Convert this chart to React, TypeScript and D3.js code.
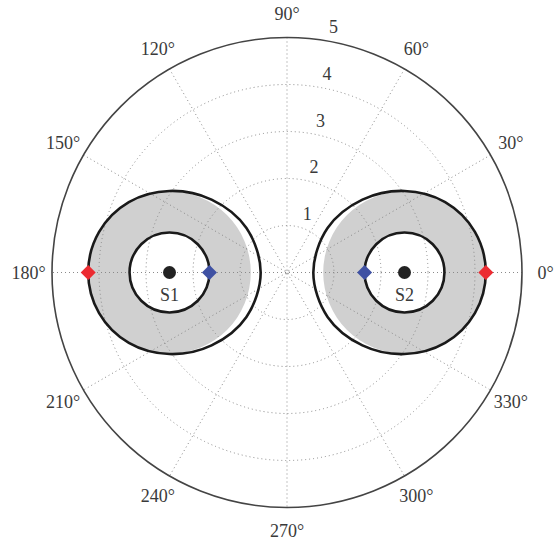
import React from 'react';
import * as d3 from 'd3';

// Polar axis
const rMax = 5;
const radialTicks = [1, 2, 3, 4, 5];
const angleTicks = [0, 30, 60, 90, 120, 150, 180, 210, 240, 270, 300, 330];

// Sources (polar position in the chart's own coordinates)
const sourceNames = ['S1', 'S2'];
const sourceTheta = [180, 0];
const sourceR = [2.5, 2.5];

// Annulus around each source (radii in chart units)
const innerRadius = [0.85, 0.85];
const shadedRadius = [1.73, 1.73];

// Outer boundary around each source: angle measured from the direction
// pointing at the origin, radius from the source centre
const boundaryAngles = [0, 30, 60, 90, 120, 150, 180, 210, 240, 270, 300, 330];
const boundaryRadii = [1.94, 1.89, 1.79, 1.735, 1.73, 1.73, 1.73, 1.73, 1.73, 1.735, 1.79, 1.89];

const W = 558;
const H = 546;
const cx = 287;
const cy = 272.5;
const R = 235;

const FONT = '"Liberation Serif", "Times New Roman", serif';
const TEXT = '#3a3a3a';

export default function App() {
  const r = d3.scaleLinear().domain([0, rMax]).range([0, R]);
  const rad = (deg: number) => (deg * Math.PI) / 180;
  const px = (theta: number, rv: number) => cx + r(rv) * Math.cos(rad(theta));
  const py = (theta: number, rv: number) => cy - r(rv) * Math.sin(rad(theta));

  const c82 = Math.cos(rad(82));
  const s82 = Math.sin(rad(82));
  const rinc = 1;

  const dotted = { stroke: '#8a8a8a', strokeWidth: 1, strokeDasharray: '1 3', fill: 'none' };

  const boundaryPath = (i: number) => {
    const sx = px(sourceTheta[i], sourceR[i]);
    const sy = py(sourceTheta[i], sourceR[i]);
    // direction toward origin
    const toward = sourceTheta[i] + 180;
    const pts: [number, number][] = boundaryAngles.map((a, k) => {
      const ang = rad(toward + a);
      return [sx + r(boundaryRadii[k]) * Math.cos(ang), sy - r(boundaryRadii[k]) * Math.sin(ang)];
    });
    return d3.line().curve(d3.curveCatmullRomClosed.alpha(0.5))(pts) || '';
  };

  const shadedPath = (i: number) => {
    const sx = px(sourceTheta[i], sourceR[i]);
    const sy = py(sourceTheta[i], sourceR[i]);
    const ro = r(shadedRadius[i]);
    const ri = r(innerRadius[i]);
    const p = d3.path();
    p.moveTo(sx + ro, sy);
    p.arc(sx, sy, ro, 0, 2 * Math.PI);
    p.moveTo(sx + ri, sy);
    p.arc(sx, sy, ri, 0, 2 * Math.PI, true);
    return p.toString();
  };

  const diamond = (x: number, y: number, h: number) =>
    `M${x},${y - h}L${x + h},${y}L${x},${y + h}L${x - h},${y}Z`;

  return (
    <svg width={W} height={H} style={{ position: 'absolute', left: 0, top: 0, background: '#fff' }}>
      {/* shaded annuli */}
      {sourceNames.map((n, i) => (
        <path key={'sh' + n} d={shadedPath(i)} fill="#d0d0d0" fillRule="evenodd" />
      ))}

      {/* dotted grid circles */}
      {radialTicks.filter(t => t < rMax).map(t => (
        <circle key={'g' + t} cx={cx} cy={cy} r={r(t)} style={dotted} />
      ))}
      {/* dotted spokes */}
      {angleTicks.filter(a => a < 180).map(a => (
        <line key={'s' + a} x1={px(a, rMax)} y1={py(a, rMax)} x2={px(a + 180, rMax)} y2={py(a + 180, rMax)} style={dotted} />
      ))}
      {/* outer solid circle */}
      <circle cx={cx} cy={cy} r={r(rMax)} fill="none" stroke="#444" strokeWidth={1.6} />

      {/* radial tick labels */}
      {radialTicks.map(t => (
        <text
          key={'rl' + t}
          x={cx + r((t + rinc / 20) * c82)}
          y={cy - r((t + rinc / 20) * s82) - 4}
          dx="0.5em"
          fontFamily={FONT}
          fontSize={18}
          fill={TEXT}
        >
          {t}
        </text>
      ))}

      {/* angle labels */}
      {angleTicks.map(a => (
        <text
          key={'al' + a}
          x={px(a, rMax * 1.1)}
          y={py(a, rMax * 1.1)}
          textAnchor="middle"
          dominantBaseline="central"
          fontFamily={FONT}
          fontSize={18}
          fill={TEXT}
        >
          {a + '°'}
        </text>
      ))}

      {/* annulus outlines */}
      {sourceNames.map((n, i) => (
        <g key={'ol' + n}>
          <path d={boundaryPath(i)} fill="none" stroke="#1a1a1a" strokeWidth={2.6} />
          <circle
            cx={px(sourceTheta[i], sourceR[i])}
            cy={py(sourceTheta[i], sourceR[i])}
            r={r(innerRadius[i])}
            fill="none"
            stroke="#1a1a1a"
            strokeWidth={2.6}
          />
        </g>
      ))}

      {/* sources, markers, labels */}
      {sourceNames.map((n, i) => {
        const sx = px(sourceTheta[i], sourceR[i]);
        const sy = py(sourceTheta[i], sourceR[i]);
        const rIn = sourceR[i] - innerRadius[i];
        const rOut = sourceR[i] + shadedRadius[i];
        return (
          <g key={'src' + n}>
            <circle cx={sx} cy={sy} r={6.5} fill="#222" />
            <path d={diamond(px(sourceTheta[i], rIn), py(sourceTheta[i], rIn), 7.5)} fill="#3f51a3" />
            <path d={diamond(px(sourceTheta[i], rOut), py(sourceTheta[i], rOut), 7.5)} fill="#ec2b31" />
            <text x={sx} y={sy + 28} textAnchor="middle" fontFamily={FONT} fontSize={18} fill={TEXT}>
              {n}
            </text>
          </g>
        );
      })}
    </svg>
  );
}
